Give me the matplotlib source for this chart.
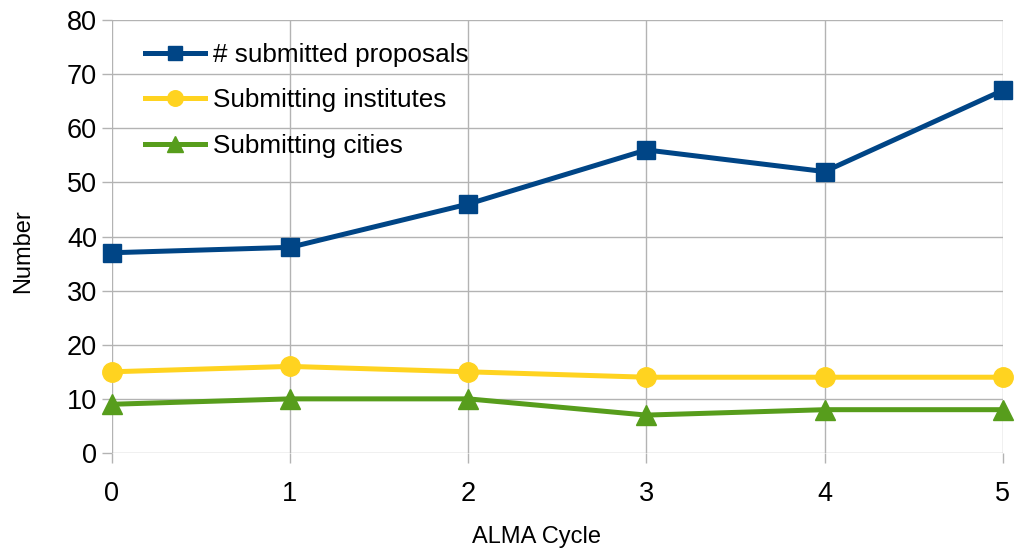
import matplotlib.pyplot as plt

cycles = [0, 1, 2, 3, 4, 5]
proposals = [37, 38, 46, 56, 52, 67]
institutes = [15, 16, 15, 14, 14, 14]
cities = [9, 10, 10, 7, 8, 8]

plt.rcParams['font.family'] = ['Liberation Sans', 'DejaVu Sans']

fig = plt.figure(figsize=(10.16, 5.48), dpi=100)
ax = fig.add_axes([0.110, 0.1734, 0.877, 0.790])

grid_col = '#b3b3b3'
ax.plot(cycles, proposals, color='#004586', lw=3.6, marker='s', ms=13, label='# submitted proposals', clip_on=False, zorder=5)
ax.plot(cycles, institutes, color='#ffd320', lw=3.6, marker='o', ms=14, label='Submitting institutes', clip_on=False, zorder=4)
ax.plot(cycles, cities, color='#579d1c', lw=3.6, marker='^', ms=14, label='Submitting cities', clip_on=False, zorder=3)

ax.set_xlim(0, 5)
ax.set_ylim(0, 80)
ax.set_yticks(range(0, 81, 10))
ax.set_xticks(cycles)
ax.grid(True, color=grid_col, lw=1)
ax.set_axisbelow(True)
for s in ax.spines.values():
    s.set_visible(False)
ax.tick_params(axis='both', colors=grid_col, labelcolor='black', labelsize=19.5, length=7, width=1)
ax.tick_params(axis='x', pad=13)

ax.set_xlabel('ALMA Cycle', fontsize=17, va='center')
ax.set_ylabel('Number', fontsize=17, va='center')
ax.xaxis.set_label_coords(0.477, -0.194)
ax.yaxis.set_label_coords(-0.1, 0.4665)

ax.legend(loc='upper left', bbox_to_anchor=(0.02, 0.983), frameon=False, fontsize=18.8,
          handlelength=2.3, labelspacing=0.82, handletextpad=0.3, borderaxespad=0.2,
          markerscale=0.8)

fig.savefig('out.png', dpi=100)
